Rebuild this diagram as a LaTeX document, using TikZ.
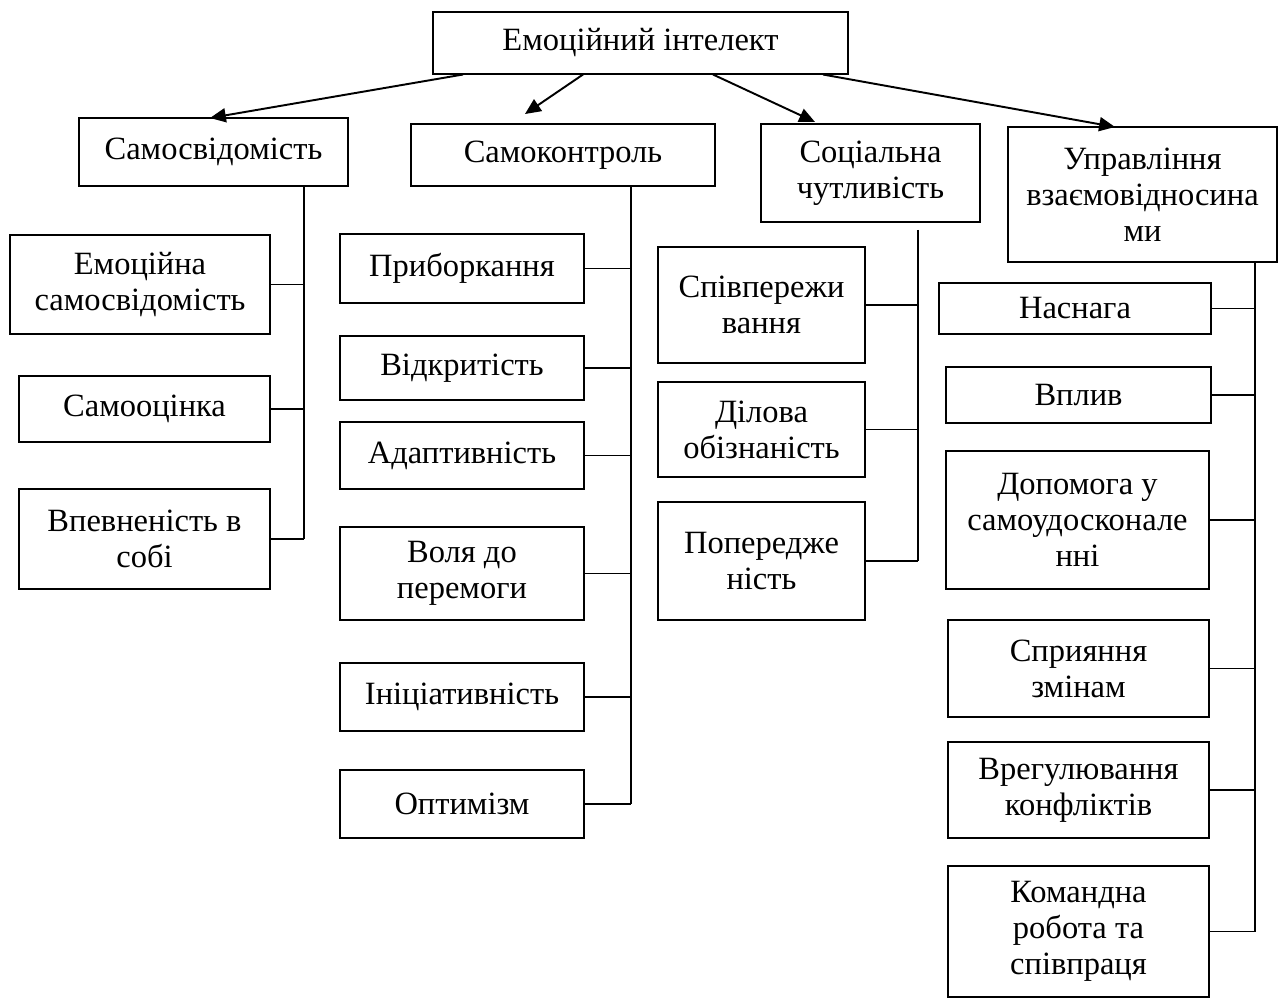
\documentclass[tikz,border=0pt]{standalone}
\usepackage{fontspec}
\setmainfont{Liberation Serif}
\usetikzlibrary{arrows.meta}

\tikzset{
  block/.style={draw, line width=0.6pt, align=center, inner sep=1pt,
    font=\fontsize{18.5}{20.5}\selectfont},
  sz/.style 2 args={minimum width=#1*0.02cm, minimum height=#2*0.02cm},
  link/.style={line width=1.1pt},
  arr/.style={line width=1.1pt, -{Triangle[length=9pt,width=8pt]}},
}

\begin{document}
\begin{tikzpicture}[x=0.02cm, y=-0.02cm]
    \useasboundingbox (0,0) rectangle (1280,999);

    % top
    \node [block, sz={415}{62}] (ei) at (640.5,43) {Емоційний інтелект};

    % first level
    \node [block, sz={269}{68}] (sv) at (213.5,152) {Самосвідомість};
    \node [block, sz={304}{62}] (sk) at (563,155) {Самоконтроль};
    \node [block, sz={219}{98}] (sch) at (870.5,173) {Соціальна\\чутливість};
    \node [block, sz={269}{135}] (uv) at (1142.5,194.5) {Управління\\взаємовідносина\\ми};

    \coordinate (svtip) at (210,118);
    \coordinate (sktip) at (525,114);
    \coordinate (schtip) at (815,122);
    \coordinate (uvtip) at (1115,127);
    \draw [arr] (ei.south -| 463,0) -- (svtip);
    \draw [arr] (ei.south -| 583,0) -- (sktip);
    \draw [arr] (ei.south -| 713,0) -- (schtip);
    \draw [arr] (ei.south -| 823,0) -- (uvtip);

    % Самосвідомість
    \node [block, sz={260}{99}] (sv1) at (140,284.5) {Емоційна\\самосвідомість};
    \node [block, sz={251}{66}] (sv2) at (144.5,409) {Самооцінка};
    \node [block, sz={251}{100}] (sv3) at (144.5,539) {Впевненість в\\собі};
    \coordinate (svbus) at (304,186);
    \draw [link] (svbus) -- (svbus |- sv3.east);
    \foreach \n in {sv1,sv2,sv3}
        \draw [link] (\n.east) -- (\n.east -| svbus);

    % Самоконтроль
    \node [block, sz={244}{69}] (sk1) at (462,268.5) {Приборкання};
    \node [block, sz={244}{64}] (sk2) at (462,368) {Відкритість};
    \node [block, sz={244}{67}] (sk3) at (462,455.5) {Адаптивність};
    \node [block, sz={244}{93}] (sk4) at (462,573.5) {Воля до\\перемоги};
    \node [block, sz={244}{68}] (sk5) at (462,697) {Ініціативність};
    \node [block, sz={244}{68}] (sk6) at (462,804) {Оптимізм};
    \coordinate (skbus) at (631,186);
    \draw [link] (skbus) -- (skbus |- sk6.east);
    \foreach \n in {sk1,sk2,sk3,sk4,sk5,sk6}
        \draw [link] (\n.east) -- (\n.east -| skbus);

    % Соціальна чутливість
    \node [block, sz={207}{116}] (sch1) at (761.5,305) {Співпережи\\вання};
    \node [block, sz={207}{95}] (sch2) at (761.5,429.5) {Ділова\\обізнаність};
    \node [block, sz={207}{118}] (sch3) at (761.5,561) {Попередже\\ність};
    \coordinate (schbus) at (918,230);
    \draw [link] (schbus) -- (schbus |- sch3.east);
    \foreach \n in {sch1,sch2,sch3}
        \draw [link] (\n.east) -- (\n.east -| schbus);

    % Управління взаємовідносинами
    \node [block, sz={272}{51}] (uv1) at (1075,308.5) {Наснага};
    \node [block, sz={265}{56}] (uv2) at (1078.5,395) {Вплив};
    \node [block, sz={263}{138}] (uv3) at (1077.5,520) {Допомога у\\самоудосконале\\нні};
    \node [block, sz={261}{97}] (uv4) at (1078.5,668.5) {Сприяння\\змінам};
    \node [block, sz={261}{96}] (uv5) at (1078.5,790) {Врегулювання\\конфліктів};
    \node [block, sz={261}{131}] (uv6) at (1078.5,931.5) {Командна\\робота та\\співпраця};
    \coordinate (uvbus) at (1255,262);
    \draw [link] (uvbus) -- (uvbus |- uv6.east);
    \foreach \n in {uv1,uv2,uv3,uv4,uv5,uv6}
        \draw [link] (\n.east) -- (\n.east -| uvbus);
\end{tikzpicture}
\end{document}
